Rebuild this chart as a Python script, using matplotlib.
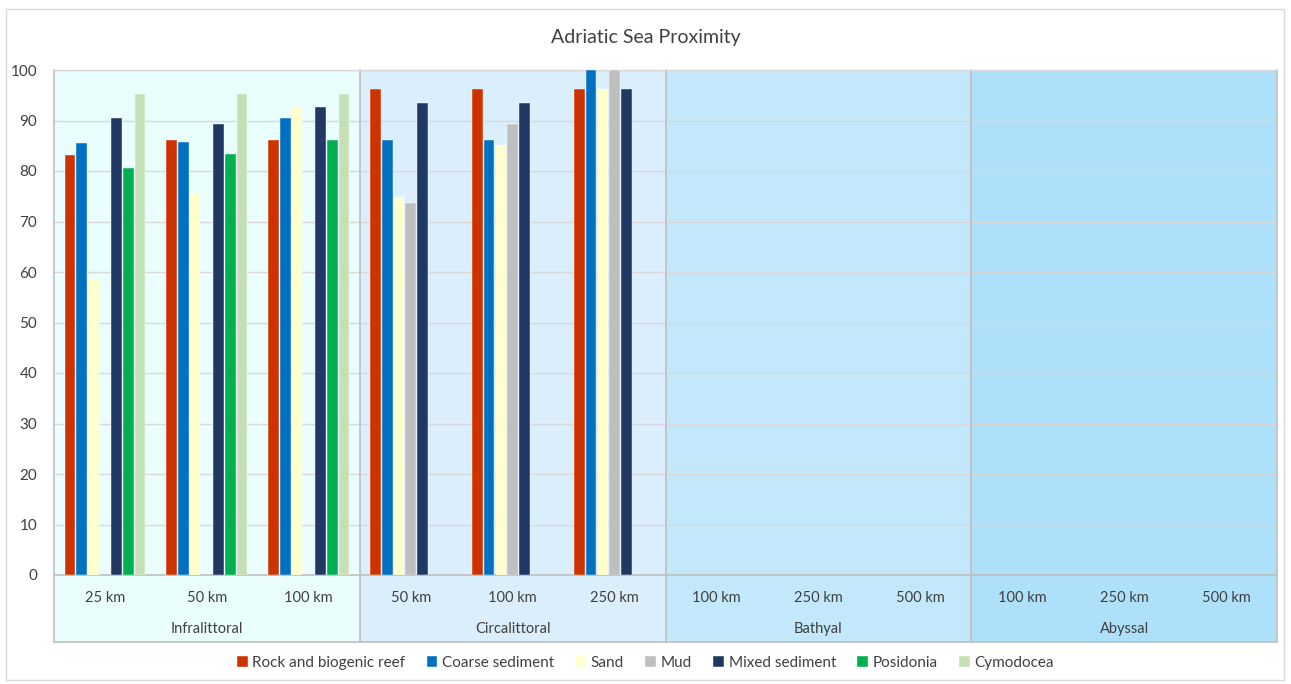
import numpy as np
import matplotlib.pyplot as plt
import matplotlib.patches as mpatches
import matplotlib.transforms as mtransforms

nan = np.nan

# zones and the distance classes inside each
zones = ['Infralittoral', 'Circalittoral', 'Bathyal', 'Abyssal']
distances = ['25 km', '50 km', '100 km',
             '50 km', '100 km', '250 km',
             '100 km', '250 km', '500 km',
             '100 km', '250 km', '500 km']

series = ['Rock and biogenic reef', 'Coarse sediment', 'Sand', 'Mud',
          'Mixed sediment', 'Posidonia', 'Cymodocea']

rock = [83.2, 86.2, 86.2, 96.2, 96.2, 96.2, nan, nan, nan, nan, nan, nan]
coarse = [85.5, 85.7, 90.5, 86.2, 86.2, 100.0, nan, nan, nan, nan, nan, nan]
sand = [58.6, 75.7, 92.6, 74.8, 85.2, 96.2, nan, nan, nan, nan, nan, nan]
mud = [nan, nan, nan, 73.6, 89.3, 100.0, nan, nan, nan, nan, nan, nan]
mixed = [90.5, 89.3, 92.6, 93.4, 93.4, 96.2, nan, nan, nan, nan, nan, nan]
posidonia = [80.5, 83.3, 86.2, nan, nan, nan, nan, nan, nan, nan, nan, nan]
cymodocea = [95.2, 95.2, 95.2, nan, nan, nan, nan, nan, nan, nan, nan, nan]

values = [rock, coarse, sand, mud, mixed, posidonia, cymodocea]
colors = ['#CC3300', '#0070C0', '#FFFFCC', '#BFBFBF', '#1F3864', '#00B050', '#C5E0B4']
zone_bg = ['#EAFEFE', '#DAEEFC', '#C3E8FB', '#AEE0FA']

plt.rcParams['font.family'] = ['Lato', 'DejaVu Sans']

W, H = 1291, 684
fig = plt.figure(figsize=(W / 100, H / 100), dpi=100)
fig.patch.set_facecolor('white')

# outer chart frame
fig.add_artist(mpatches.Rectangle((6 / W, 4 / H), (1284 - 6) / W, (675 - 4) / H,
                                  transform=fig.transFigure, fill=False,
                                  edgecolor='#D9D9D9', linewidth=1))

left, right, top, bottom = 54, 1277, 70, 575
ax = fig.add_axes([left / W, 1 - bottom / H, (right - left) / W, (bottom - top) / H])

n_cat = len(distances)
x = np.arange(n_cat)
slot = 0.115
bar_w = slot * 0.9
offsets = (np.arange(len(series)) - (len(series) - 1) / 2) * slot

ax.set_xlim(-0.5, n_cat - 0.5)
ax.set_ylim(0, 100)

# zone backgrounds, running down through the label rows
label_depth = (642 - bottom) / (bottom - top)
for i, c in enumerate(zone_bg):
    ax.axvspan(3 * i - 0.5, 3 * i + 2.5, ymin=-label_depth, ymax=1,
               facecolor=c, edgecolor='none', clip_on=False, zorder=0)

ax.set_yticks(np.arange(0, 101, 10))
ax.yaxis.grid(True, color='#D9D9D9', linewidth=1)
ax.set_axisbelow(True)

for k, (name, vals, col) in enumerate(zip(series, values, colors)):
    ax.bar(x + offsets[k], vals, width=bar_w, color=col, label=name,
           edgecolor='white', linewidth=0.3, zorder=3)

for s in ax.spines.values():
    s.set_visible(False)
ax.tick_params(axis='y', length=0, labelsize=11, labelcolor='#404040', pad=12)
ax.tick_params(axis='x', length=0)
ax.set_xticks([])

# separators, axis line and bottom border of the category area
sep_kw = dict(color='#BFBFBF', linewidth=1.2, clip_on=False, zorder=2)
for b in [-0.5, 2.5, 5.5, 8.5, 11.5]:
    ax.plot([b, b], [-label_depth * 100, 100], **sep_kw)
ax.plot([-0.5, n_cat - 0.5], [0, 0], **sep_kw)
ax.plot([-0.5, n_cat - 0.5], [-label_depth * 100, -label_depth * 100], **sep_kw)
ax.plot([-0.5, n_cat - 0.5], [100, 100], color='#D9D9D9', linewidth=1,
        clip_on=False, zorder=2)

trans = mtransforms.blended_transform_factory(ax.transData, fig.transFigure)
for i, d in enumerate(distances):
    ax.text(i, 1 - 598 / H, d, transform=trans, ha='center', va='center',
            fontsize=10.5, color='#404040')
for i, z in enumerate(zones):
    ax.text(3 * i + 1, 1 - 629 / H, z, transform=trans, ha='center', va='center',
            fontsize=10.5, color='#404040')

fig.text(0.5, 1 - 38 / H, 'Adriatic Sea Proximity', ha='center', va='center',
         fontsize=14, color='#404040')

fig.legend(loc='center', bbox_to_anchor=(0.5, 1 - 663 / H), ncol=7, frameon=False,
           fontsize=11, handlelength=0.7, handleheight=0.7, handletextpad=0.3,
           columnspacing=1.4, labelcolor='#404040')

fig.savefig('out.png', dpi=100)
